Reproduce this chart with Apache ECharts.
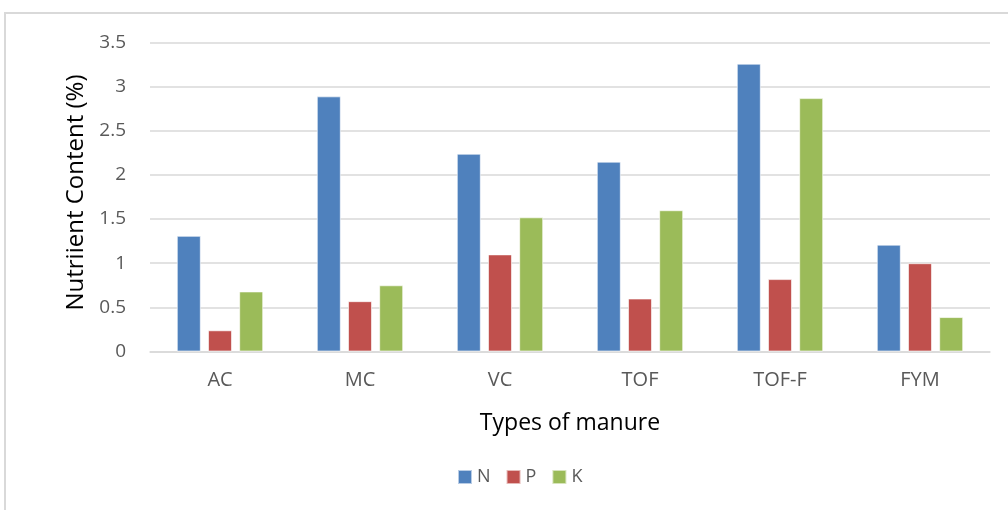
<!DOCTYPE html>
<html>
<head>
<meta charset="utf-8">
<script src="https://cdn.jsdelivr.net/npm/echarts@6/dist/echarts.min.js"></script>
<style>
html,body{margin:0;padding:0;background:#fff;}
#c{width:1008px;height:510px;}
</style>
</head>
<body>
<div id="c"></div>
<script>
const categories = ['AC', 'MC', 'VC', 'TOF', 'TOF-F', 'FYM'];
const seriesNames = ['N', 'P', 'K'];
const nValues = [1.31, 2.89, 2.24, 2.15, 3.26, 1.21];
const pValues = [0.24, 0.57, 1.10, 0.60, 0.82, 1.00];
const kValues = [0.68, 0.75, 1.52, 1.60, 2.87, 0.39];
const yTicks = [0, 0.5, 1, 1.5, 2, 2.5, 3, 3.5];
const colors = ['#4F81BD', '#C0504D', '#9BBB59'];
const FONT = 'Open Sans';

const chart = echarts.init(document.getElementById('c'), null, {renderer: 'canvas'});
const dataSets = [nValues, pValues, kValues];
chart.setOption({
  animation: false,
  textStyle: {fontFamily: FONT},
  graphic: [{
    type: 'rect',
    shape: {x: 5, y: 13, width: 1010, height: 510},
    style: {fill: 'none', stroke: '#d9d9d9', lineWidth: 2},
    silent: true
  }],
  grid: {left: 150, right: 18, top: 42.5, bottom: 158.5, containLabel: false},
  legend: {
    data: seriesNames,
    left: 457, top: 468, padding: 0,
    itemWidth: 14, itemHeight: 14, itemGap: 15,
    icon: 'rect',
    textStyle: {fontFamily: FONT, fontSize: 18, color: '#595959'}
  },
  xAxis: {
    type: 'category',
    data: categories,
    name: 'Types of manure',
    nameLocation: 'middle',
    nameGap: 60,
    nameTextStyle: {fontFamily: FONT, fontSize: 23, color: '#000'},
    axisLine: {lineStyle: {color: '#d9d9d9', width: 1.5}},
    axisTick: {show: false},
    axisLabel: {fontFamily: FONT, fontSize: 20, color: '#595959', margin: 19}
  },
  yAxis: {
    type: 'value',
    min: 0, max: 3.5, interval: 0.5,
    name: 'Nutriient Content (%)',
    nameLocation: 'middle',
    nameGap: 57,
    nameTextStyle: {fontFamily: FONT, fontSize: 24, color: '#000', padding: [0, 0, 0, 9]},
    axisLine: {show: false},
    axisTick: {show: false},
    splitLine: {lineStyle: {color: '#d9d9d9', width: 1.5}},
    axisLabel: {
      fontFamily: FONT, fontSize: 19, color: '#595959', margin: 24,
      formatter: v => yTicks.includes(v) ? String(v) : ''
    }
  },
  series: seriesNames.map((name, i) => ({
    name: name,
    type: 'bar',
    data: dataSets[i],
    barWidth: 24,
    barGap: '30%',
    itemStyle: {color: colors[i], borderColor: 'rgba(255,255,255,0.6)', borderWidth: 1}
  }))
});
</script>
</body>
</html>
